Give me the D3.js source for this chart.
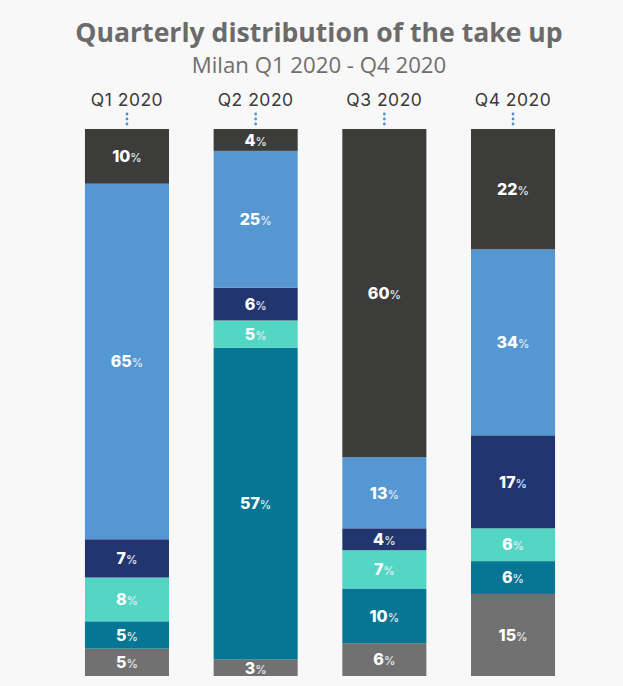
<!DOCTYPE html>
<html>
<head>
<meta charset="utf-8">
<script src="https://cdn.jsdelivr.net/npm/d3@7"></script>
<style>
  html, body { margin: 0; padding: 0; background: #f8f8f8; }
  svg { display: block; }
</style>
</head>
<body>
<script>
// Quarters along the x axis
const quarters = ["Q1 2020", "Q2 2020", "Q3 2020", "Q4 2020"];

// Segment shares per quarter (%), listed from the bottom of each bar upward
const segGray   = [5, 3, 6, 15];
const segTeal   = [5, 57, 10, 6];
const segMint   = [8, 5, 7, 6];
const segNavy   = [7, 6, 4, 17];
const segBlue   = [65, 25, 13, 34];
const segDark   = [10, 4, 60, 22];

const seriesKeys = ["gray", "teal", "mint", "navy", "blue", "dark"];
const seriesValues = [segGray, segTeal, segMint, segNavy, segBlue, segDark];
const seriesColors = ["#717171", "#077594", "#54d6c4", "#22356f", "#5497d3", "#3c3c3a"];

const W = 623, H = 686;

const svg = d3.select("body").append("svg")
  .attr("width", W).attr("height", H);

svg.append("rect").attr("width", W).attr("height", H).attr("fill", "#f8f8f8");

// Titles
svg.append("text")
  .attr("x", 319).attr("y", 41.5)
  .attr("text-anchor", "middle")
  .attr("font-family", "'Open Sans', sans-serif")
  .attr("font-weight", 700)
  .attr("font-size", 26.6)
  .attr("fill", "#6b6b6b")
  .text("Quarterly distribution of the take up");

svg.append("text")
  .attr("x", 319).attr("y", 72.5)
  .attr("text-anchor", "middle")
  .attr("font-family", "'Open Sans', sans-serif")
  .attr("font-size", 22.2)
  .attr("fill", "#6e6e6e")
  .text("Milan Q1 2020 - Q4 2020");

// Scales
const x = d3.scaleBand()
  .domain(quarters)
  .range([40.3, 599.7])
  .paddingInner(0.347)
  .paddingOuter(0.347);

const y = d3.scaleLinear().domain([0, 100]).range([676, 129]);

// Build stacked table
const table = quarters.map((q, i) => {
  const row = { quarter: q };
  seriesKeys.forEach((k, j) => { row[k] = seriesValues[j][i]; });
  return row;
});
const stacked = d3.stack().keys(seriesKeys)(table);

// Column headers with a small dotted leader under each
const header = svg.append("g").attr("class", "headers");
header.selectAll("text").data(quarters).join("text")
  .attr("x", d => x(d) + x.bandwidth() / 2)
  .attr("y", 105.5)
  .attr("text-anchor", "middle")
  .attr("font-family", "Inter, 'Noto Sans', sans-serif")
  .attr("font-size", 17.5)
  .attr("letter-spacing", 0.5)
  .attr("fill", "#3a3a3a")
  .text(d => d);

quarters.forEach(q => {
  header.append("g").selectAll("circle").data([0, 1, 2]).join("circle")
    .attr("cx", x(q) + x.bandwidth() / 2)
    .attr("cy", d => 114 + d * 5)
    .attr("r", 1.4)
    .attr("fill", "#4a90d9");
});

// Bars
const layers = svg.append("g").selectAll("g").data(stacked).join("g")
  .attr("fill", (d, i) => seriesColors[i]);

layers.selectAll("rect").data(d => d).join("rect")
  .attr("x", d => x(d.data.quarter))
  .attr("width", x.bandwidth())
  .attr("y", d => y(d[1]))
  .attr("height", d => y(d[0]) - y(d[1]));

// Value labels
layers.each(function (layer) {
  const g = d3.select(this);
  const t = g.selectAll("text").data(layer).join("text")
    .attr("x", d => x(d.data.quarter) + x.bandwidth() / 2)
    .attr("y", d => (y(d[0]) + y(d[1])) / 2)
    .attr("dy", "0.36em")
    .attr("text-anchor", "middle")
    .attr("font-family", "Inter, 'Noto Sans', sans-serif");
  t.append("tspan")
    .attr("font-weight", 800)
    .attr("font-size", 16)
    .attr("fill", "#ffffff")
    .text(d => d[1] - d[0]);
  t.append("tspan")
    .attr("font-weight", 500)
    .attr("font-size", 11.5)
    .attr("fill", "#e6edf5")
    .text("%");
});
</script>
</body>
</html>
